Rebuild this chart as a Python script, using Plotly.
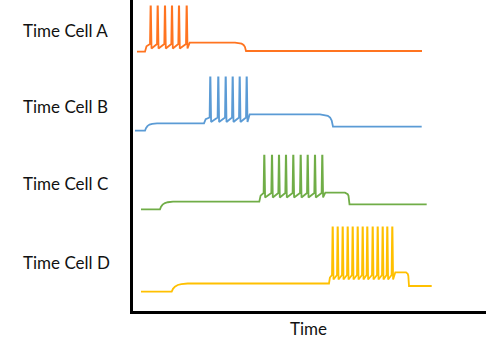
import plotly.graph_objects as go

# ---------------- data (time units along x, membrane level along y) ----------------
cell_names = ["Time Cell A", "Time Cell B", "Time Cell C", "Time Cell D"]
cell_colors = ["#FF7420", "#5B9BD5", "#70AD47", "#FFC000"]

# spike times for each cell
A_spikes = [19.7, 26.7, 34.0, 41.0, 48.0, 55.7]
B_spikes = [79.3, 87.3, 94.7, 101.7, 108.7, 115.7]
C_spikes = [133.3, 141.0, 148.0, 155.0, 162.3, 169.7, 176.7, 184.0, 191.3]
D_spikes = [201.7, 206.7, 211.7, 216.7, 221.7, 226.7, 231.7, 236.3,
            241.7, 246.7, 251.7, 256.3, 261.3]

# [trace start, step onset, burst onset, plateau fall start, plateau fall end, trace end]
A_times = [6.0, None, 14.0, 104.0, 115.0, 291.0]
B_times = [4.0, 14.0, 73.0, 189.0, 202.0, 290.7]
C_times = [10.0, 29.0, 128.3, 214.0, 218.5, 295.7]
D_times = [10.0, 40.7, 198.0, 275.0, 278.0, 300.7]

# [rest, step level, burst level, spike peak, plateau, final]
A_levels = [260.3, None, 266.0, 305.5, 269.3, 261.0]
B_levels = [181.3, 188.7, 192.5, 234.7, 197.7, 185.3]
C_levels = [102.7, 110.3, 117.0, 156.3, 119.3, 107.7]
D_levels = [20.3, 28.5, 35.0, 84.5, 39.7, 26.0]

# duration of the small depolarising step
step_durations = [0.0, 12.0, 13.0, 16.0]

# label positions (paper coordinates)
label_y = [0.9035, 0.659, 0.4106, 0.156]
x_title = "Time"

# ---------------- shape helpers ----------------
RISE = [(0.08, 0.35), (0.2, 0.62), (0.38, 0.82), (0.6, 0.93), (1.0, 1.0)]
FALL = [(0.35, 0.04), (0.6, 0.12), (0.78, 0.27), (0.9, 0.5), (1.0, 1.0)]


def build(times, levels, spikes, step_dur):
    start, step_on, burst_on, fall_start, fall_end, end = times
    rest, step, burst, peak, plat, final = levels
    xs, ys = [start], [rest]
    cur = rest
    if step_on is not None:
        xs.append(step_on); ys.append(rest)
        for f, g in RISE:
            xs.append(step_on + f * step_dur); ys.append(rest + g * (step - rest))
        cur = step
    xs.append(burst_on); ys.append(cur)
    first = spikes[0]
    xs.append(burst_on + 0.3 * (first - 0.7 - burst_on)); ys.append(cur + 0.7 * (burst + 2 - cur))
    for ts in spikes:
        xs += [ts - 0.7, ts - 0.15, ts + 0.15, ts + 0.8]
        ys += [burst + 2.0, peak, peak, burst - 2.5]
    last = spikes[-1]
    xs.append(last + 3.0); ys.append(plat)
    xs.append(fall_start); ys.append(plat)
    for f, g in FALL:
        xs.append(fall_start + f * (fall_end - fall_start)); ys.append(plat + g * (final - plat))
    xs.append(end); ys.append(final)
    return xs, ys


all_times = [A_times, B_times, C_times, D_times]
all_levels = [A_levels, B_levels, C_levels, D_levels]
all_spikes = [A_spikes, B_spikes, C_spikes, D_spikes]

fig = go.Figure()
for name, color, tms, lv, sp, sd in zip(cell_names, cell_colors, all_times,
                                         all_levels, all_spikes, step_durations):
    xs, ys = build(tms, lv, sp, sd)
    fig.add_trace(go.Scatter(x=xs, y=ys, mode="lines", name=name,
                             line=dict(color=color, width=1.8), hoverinfo="skip"))

FONT = "Lato"
for name, ly in zip(cell_names, label_y):
    fig.add_annotation(x=-0.318, y=ly, xref="paper", yref="paper", text=name, showarrow=False,
                       xanchor="left", yanchor="middle",
                       font=dict(family=FONT, size=17, color="#111111"))

fig.add_annotation(x=0.4977, y=-0.0547, xref="paper", yref="paper", text=x_title,
                   showarrow=False, xanchor="center", yanchor="middle",
                   font=dict(family=FONT, size=17, color="#111111"))

fig.update_layout(
    width=486, height=351,
    margin=dict(l=133, r=0, t=0, b=40),
    paper_bgcolor="white", plot_bgcolor="white",
    showlegend=False,
    xaxis=dict(range=[2, 355], showgrid=False, zeroline=False, showticklabels=False,
               ticks="", showline=True, linecolor="black", linewidth=2.5),
    yaxis=dict(range=[1, 312], showgrid=False, zeroline=False, showticklabels=False,
               ticks="", showline=True, linecolor="black", linewidth=2.5),
)

fig.write_html("out.html")
